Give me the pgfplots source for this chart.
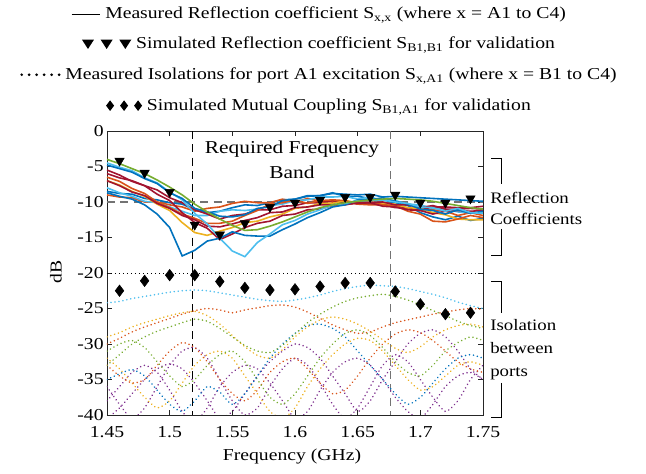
\documentclass[border=0pt]{standalone}
\usepackage{fontspec}
\setmainfont{Liberation Serif}[FakeStretch=1.18]
\usepackage{pgfplots}
\pgfplotsset{compat=1.18}
\usepackage{pgfplotstable}
\definecolor{mB}{rgb}{0,0.447,0.741}
\definecolor{mO}{rgb}{0.85,0.325,0.098}
\definecolor{mY}{rgb}{0.929,0.694,0.125}
\definecolor{mP}{rgb}{0.494,0.184,0.556}
\definecolor{mG}{rgb}{0.466,0.674,0.188}
\definecolor{mL}{rgb}{0.301,0.745,0.933}
\definecolor{mR}{rgb}{0.635,0.078,0.184}
\definecolor{axgray}{rgb}{0.15,0.15,0.15}

\pgfplotstableread{
x r1 r2 r3 r4 r5 r6 r7 r8 r9 r10 r11 r12
1.45 -8.7 -4.8 -8.5 -6.5 -9.0 -7.0 -4.0 -4.5 -8.0 -5.5 -7.0 -6.0
1.46 -9.2 -5.3 -8.8 -7.1 -9.3 -7.6 -4.6 -5.1 -8.7 -6.2 -7.7 -6.6
1.47 -9.6 -5.8 -8.9 -8.1 -9.4 -8.5 -5.3 -5.6 -9.2 -7.1 -8.6 -7.0
1.48 -10.4 -6.7 -9.5 -8.8 -10.0 -9.2 -6.0 -6.6 -9.9 -7.7 -9.1 -7.7
1.49 -11.7 -7.4 -9.7 -10.0 -10.0 -10.3 -6.9 -7.3 -10.1 -8.9 -10.2 -8.3
1.50 -13.6 -8.7 -10.1 -10.8 -10.4 -11.2 -7.9 -8.6 -10.7 -9.8 -10.9 -9.4
1.51 -17.6 -9.5 -10.3 -11.7 -10.7 -12.9 -9.0 -9.7 -11.3 -11.5 -11.9 -10.1
1.52 -16.8 -10.9 -11.1 -12.3 -11.3 -14.3 -10.3 -11.6 -11.9 -12.9 -12.5 -11.1
1.53 -15.5 -11.4 -11.5 -13.0 -10.9 -14.7 -11.4 -13.1 -11.9 -13.7 -13.4 -11.7
1.54 -15.1 -12.0 -11.3 -13.0 -10.7 -14.1 -12.4 -15.1 -11.3 -15.3 -13.5 -12.4
1.55 -14.2 -12.1 -10.8 -12.7 -10.2 -13.6 -13.3 -16.9 -11.1 -14.5 -13.1 -11.9
1.56 -14.7 -11.8 -10.4 -11.9 -9.9 -12.9 -14.0 -17.7 -11.2 -13.6 -12.6 -11.7
1.57 -14.8 -10.9 -10.5 -11.2 -10.1 -12.7 -13.9 -15.7 -11.0 -13.0 -12.2 -11.1
1.58 -14.8 -10.7 -10.1 -10.3 -10.1 -12.1 -13.4 -14.5 -10.5 -12.7 -11.5 -11.1
1.59 -13.9 -9.8 -9.7 -10.1 -9.6 -11.7 -12.8 -13.2 -10.3 -11.9 -11.4 -10.6
1.60 -13.1 -9.6 -9.6 -9.7 -10.0 -10.9 -12.1 -12.6 -9.8 -11.7 -10.8 -10.5
1.61 -12.2 -9.1 -9.2 -10.2 -9.5 -10.7 -11.4 -11.7 -9.7 -11.1 -10.7 -10.1
1.62 -11.5 -9.1 -9.1 -9.8 -9.9 -10.2 -10.8 -11.1 -9.3 -11.0 -10.4 -10.1
1.63 -10.7 -8.8 -8.7 -9.7 -10.0 -10.2 -10.4 -10.4 -9.3 -10.5 -10.4 -9.8
1.64 -10.4 -8.9 -9.2 -9.8 -9.8 -9.8 -10.1 -10.2 -9.2 -10.4 -10.3 -10.1
1.65 -9.7 -9.0 -9.2 -10.3 -10.3 -10.1 -9.9 -9.8 -9.6 -10.1 -10.2 -10.1
1.66 -9.7 -8.9 -9.5 -9.9 -10.4 -10.1 -9.7 -9.8 -9.3 -10.1 -10.1 -10.2
1.67 -9.4 -9.3 -9.7 -10.4 -10.4 -10.2 -9.6 -9.7 -9.8 -10.0 -10.6 -10.3
1.68 -9.9 -9.2 -10.1 -10.5 -10.5 -10.3 -9.5 -10.0 -9.8 -10.4 -10.7 -10.8
1.69 -10.3 -9.3 -10.5 -11.3 -11.0 -10.8 -9.6 -10.2 -10.3 -10.4 -11.1 -10.8
1.70 -11.0 -9.4 -11.5 -11.7 -11.2 -10.9 -9.7 -10.7 -10.4 -10.8 -11.2 -11.1
1.71 -11.2 -9.5 -12.1 -12.7 -11.1 -11.5 -9.9 -10.8 -10.9 -10.5 -11.7 -10.7
1.72 -11.7 -9.6 -12.5 -12.8 -11.3 -11.8 -10.2 -11.3 -11.0 -11.0 -11.3 -10.7
1.73 -11.1 -9.7 -12.0 -12.4 -11.9 -12.4 -10.5 -10.9 -11.4 -11.0 -11.2 -10.8
1.74 -11.6 -9.8 -12.6 -11.9 -11.5 -12.5 -10.8 -11.5 -11.5 -10.9 -11.3 -10.8
1.75 -11.3 -9.9 -12.3 -12.2 -11.9 -12.5 -11.0 -11.6 -11.5 -11.0 -11.2 -10.6
}\refl

\pgfplotstableread{
x i1 i2 i3 i4 i5 i6 i7 i8 i9 i10 i11
1.45 -24.2 -30.0 -33.0 -29.0 -36.0 -35.0 -33.0 -32.0 -38.0 -31.0 -40.5
1.46 -24.0 -29.2 -31.5 -28.4 -38.5 -34.2 -34.5 -33.5 -36.0 -30.0 -39.0
1.47 -23.6 -28.3 -30.0 -27.6 -40.5 -33.6 -35.5 -35.5 -34.0 -29.5 -37.0
1.48 -23.3 -27.6 -29.0 -27.0 -39.0 -34.5 -35.0 -37.5 -33.0 -30.5 -35.0
1.49 -23.0 -27.0 -28.2 -26.5 -36.0 -36.5 -33.0 -39.0 -34.0 -32.5 -33.5
1.50 -22.7 -26.4 -27.6 -26.0 -33.0 -38.5 -31.0 -38.0 -36.5 -34.5 -32.8
1.51 -22.5 -25.8 -27.0 -25.6 -31.0 -39.5 -29.8 -35.5 -39.5 -36.0 -33.5
1.52 -22.4 -25.3 -26.5 -25.4 -30.5 -38.0 -30.5 -33.0 -41.0 -35.0 -35.5
1.53 -22.5 -25.0 -26.8 -26.0 -32.0 -36.0 -32.5 -31.5 -39.0 -33.0 -38.0
1.54 -22.8 -25.2 -27.8 -27.2 -35.0 -36.8 -35.0 -31.0 -36.0 -31.5 -40.5
1.55 -23.1 -25.6 -29.0 -28.8 -38.0 -38.5 -37.0 -32.0 -34.0 -31.0 -39.5
1.56 -23.4 -25.2 -30.2 -30.4 -40.0 -37.0 -38.0 -34.5 -33.0 -32.5 -37.0
1.57 -23.7 -24.9 -31.0 -31.6 -39.0 -34.5 -36.5 -37.0 -33.5 -35.0 -34.5
1.58 -23.9 -24.6 -31.2 -32.0 -36.0 -32.0 -34.0 -39.5 -35.5 -37.5 -32.5
1.59 -24.0 -24.5 -30.2 -30.8 -33.5 -30.0 -32.5 -40.5 -38.0 -38.5 -31.0
1.60 -23.8 -24.8 -28.6 -29.0 -32.0 -28.5 -32.0 -39.0 -40.5 -37.0 -30.0
1.61 -23.5 -25.5 -27.0 -27.6 -33.0 -27.4 -33.5 -36.0 -39.5 -34.5 -30.5
1.62 -23.1 -26.4 -25.8 -26.6 -35.5 -27.2 -35.5 -33.5 -36.5 -32.0 -32.0
1.63 -22.6 -27.3 -24.8 -26.2 -38.5 -27.8 -37.0 -31.5 -34.0 -30.0 -34.5
1.64 -22.2 -28.0 -24.0 -26.5 -40.5 -29.0 -36.5 -30.0 -32.5 -28.5 -37.0
1.65 -21.9 -28.5 -23.5 -27.2 -39.0 -31.0 -34.5 -29.2 -32.0 -28.0 -39.5
1.66 -21.7 -28.3 -23.2 -28.2 -36.0 -33.0 -32.0 -29.5 -33.0 -28.8 -38.0
1.67 -21.8 -27.6 -23.0 -29.4 -33.0 -35.0 -30.0 -31.0 -35.0 -30.5 -35.0
1.68 -21.9 -27.0 -23.3 -30.6 -31.5 -37.0 -28.6 -33.0 -37.5 -32.5 -32.5
1.69 -22.2 -26.6 -23.8 -31.2 -32.5 -38.5 -28.0 -35.0 -39.5 -34.0 -30.0
1.70 -22.6 -26.2 -24.5 -30.4 -35.0 -37.5 -28.4 -36.5 -40.5 -34.5 -28.5
1.71 -23.0 -25.8 -25.3 -29.0 -37.5 -35.5 -29.5 -36.0 -38.5 -33.0 -28.0
1.72 -23.5 -25.5 -26.0 -28.0 -39.5 -33.5 -31.0 -34.5 -36.0 -31.0 -29.0
1.73 -24.1 -25.2 -26.8 -27.4 -38.0 -32.0 -32.5 -33.0 -34.5 -29.8 -31.0
1.74 -24.6 -25.0 -27.4 -27.2 -35.0 -31.5 -33.5 -32.5 -34.0 -29.0 -33.5
1.75 -25.0 -25.1 -27.8 -27.6 -33.0 -32.0 -34.0 -33.0 -35.0 -29.5 -35.0
}\iso

\pgfplotstableread{
x y
1.46 -4.2
1.48 -5.9
1.50 -8.6
1.52 -13.2
1.54 -14.6
1.56 -13.0
1.58 -10.7
1.60 -10.1
1.62 -9.7
1.64 -9.3
1.66 -9.3
1.68 -9.0
1.70 -10.1
1.72 -10.1
1.74 -9.5
}\simrefl

\pgfplotstableread{
x y
1.46 -22.5
1.48 -21.1
1.50 -20.3
1.52 -20.3
1.54 -21.2
1.56 -22.1
1.58 -22.4
1.60 -22.3
1.62 -21.9
1.64 -21.4
1.66 -21.4
1.68 -22.6
1.70 -24.4
1.72 -25.8
1.74 -25.6
}\simcoup

\begin{document}
\begin{tikzpicture}
\useasboundingbox (-80.25pt,-44.25pt) rectangle (404.25pt,311.25pt);
\begin{axis}[
  scale only axis, width=282pt, height=213pt,
  xmin=1.45, xmax=1.75, ymin=-40, ymax=0,
  xtick={1.45,1.5,1.55,1.6,1.65,1.7,1.75},
  xticklabels={1.45,1.5,1.55,1.6,1.65,1.7,1.75},
  ytick={-40,-35,-30,-25,-20,-15,-10,-5,0},
  yticklabels={-40,-35,-30,-25,-20,-15,-10,-5,0},
  tick label style={font=\fontsize{12.5}{14}\selectfont, text=black},
  xticklabel style={yshift=-5pt},
  yticklabel style={xshift=1pt},
  axis line style={axgray, line width=0.5pt},
  tick style={axgray, line width=0.5pt},
  major tick length=3.5pt,
  tick align=inside,
  clip=true,
]
\addplot[black, dash pattern=on 6pt off 4pt, line width=0.6pt] coordinates {(1.518,0) (1.518,-40)};
\addplot[black!55, dash pattern=on 6pt off 4pt, line width=0.8pt] coordinates {(1.676,0) (1.676,-40)};
\addplot[black!55, dash pattern=on 6pt off 4pt, line width=0.8pt] coordinates {(1.45,-10) (1.75,-10)};
\addplot[black, dash pattern=on 0.8pt off 2.2pt, line width=0.6pt] coordinates {(1.45,-20) (1.75,-20)};

% isolation (dotted)
\pgfplotsset{isostyle/.style={line width=1.3pt, dash pattern=on 0.01pt off 3pt, line cap=round, smooth, tension=0.4}}
\addplot[isostyle, mP] table[x=x,y=i11]{\iso};
\addplot[isostyle, mP] table[x=x,y=i9]{\iso};
\addplot[isostyle, mP] table[x=x,y=i5]{\iso};
\addplot[isostyle, mY] table[x=x,y=i8]{\iso};
\addplot[isostyle, mO] table[x=x,y=i7]{\iso};
\addplot[isostyle, mG] table[x=x,y=i10]{\iso};
\addplot[isostyle, mB] table[x=x,y=i6]{\iso};
\addplot[isostyle, mY] table[x=x,y=i4]{\iso};
\addplot[isostyle, mG] table[x=x,y=i3]{\iso};
\addplot[isostyle, mO] table[x=x,y=i2]{\iso};
\addplot[isostyle, mL] table[x=x,y=i1]{\iso};

% measured reflection
\pgfplotsset{refstyle/.style={line width=1.2pt}}
\addplot[refstyle, mB] table[x=x,y=r3]{\refl};
\addplot[refstyle, mO] table[x=x,y=r5]{\refl};
\addplot[refstyle, mL] table[x=x,y=r9]{\refl};
\addplot[refstyle, mR] table[x=x,y=r12]{\refl};
\addplot[refstyle, mY] table[x=x,y=r6]{\refl};
\addplot[refstyle, mO] table[x=x,y=r4]{\refl};
\addplot[refstyle, mR] table[x=x,y=r11]{\refl};
\addplot[refstyle, mR] table[x=x,y=r10]{\refl};
\addplot[refstyle, mB] table[x=x,y=r1]{\refl};
\addplot[refstyle, mL] table[x=x,y=r8]{\refl};
\addplot[refstyle, mB] table[x=x,y=r2]{\refl};
\addplot[refstyle, mG] table[x=x,y=r7]{\refl};

\addplot[only marks, mark=triangle*, mark size=4pt, mark options={rotate=180, fill=black, draw=black}] table[x=x,y=y]{\simrefl};
\addplot[only marks, mark=diamond*, mark size=4.3pt, mark options={fill=black, draw=black}] table[x=x,y=y]{\simcoup};
\end{axis}

% axis labels
\node[rotate=90, font=\fontsize{12.5}{14}\selectfont] at (-38.25pt,107.25pt) {dB};
\node[font=\fontsize{12.5}{14}\selectfont] at (138.75pt,-31pt) {Frequency (GHz)};

% title in plot
\node[align=center, font=\fontsize{13.6}{18.75}\selectfont] at (138.75pt,191.5pt) {Required Frequency\\Band};

% right annotations
\node[anchor=west, align=left, font=\fontsize{12}{15.75}\selectfont, inner sep=0pt] at (287.25pt,154.9pt) {Reflection\\Coefficients};
\node[anchor=west, align=left, font=\fontsize{12}{17.25}\selectfont, inner sep=0pt] at (287.25pt,48.75pt) {Isolation\\between\\ports};
\draw[black, line width=0.5pt] (288pt,192.75pt) -- (295.5pt,192.75pt) -- (295.5pt,173.25pt);
\draw[black, line width=0.5pt] (295.5pt,139.5pt) -- (295.5pt,120pt) -- (288pt,120pt);
\draw[black, line width=0.5pt] (288pt,100.5pt) -- (295.5pt,100.5pt) -- (295.5pt,76.5pt);
\draw[black, line width=0.5pt] (295.5pt,24pt) -- (295.5pt,-1.5pt) -- (288pt,-1.5pt);

% legend text lines
\node[anchor=base, font=\fontsize{12.5}{14}\selectfont] at (158.6pt,297pt)
 {\tikz[baseline=-0.55ex]\draw[line width=1pt](0,0)--(21pt,0);\ Measured Reflection coefficient S\textsubscript{x,x} (where x = A1 to C4)};
\node[anchor=base, font=\fontsize{12.5}{14}\selectfont] at (158.6pt,274.5pt)
 {\tikz[baseline=0pt]{\foreach \i in {0,1,2}{\fill ({\i*14pt},7pt) -- ({\i*14pt+9pt},7pt) -- ({\i*14pt+4.5pt},0pt) -- cycle;}}\ Simulated Reflection coefficient S\textsubscript{B1,B1} for validation};
\node[anchor=base, font=\fontsize{12.5}{14}\selectfont] at (158.6pt,251.25pt)
 {\tikz[baseline=-0.2ex]{\foreach \i in {0,...,5}{\fill ({\i*5.6pt},2.8pt) circle (1.1pt);}}\ Measured Isolations for port A1 excitation S\textsubscript{x,A1} (where x = B1 to C4)};
\node[anchor=base, font=\fontsize{12.5}{14}\selectfont] at (158.6pt,228pt)
 {\tikz[baseline=0pt]{\foreach \i in {0,1,2}{\fill ({\i*10.5pt+3pt},0pt) -- ({\i*10.5pt+6pt},4pt) -- ({\i*10.5pt+3pt},8pt) -- ({\i*10.5pt},4pt) -- cycle;}}\ Simulated Mutual Coupling S\textsubscript{B1,A1} for validation};
\end{tikzpicture}
\end{document}
